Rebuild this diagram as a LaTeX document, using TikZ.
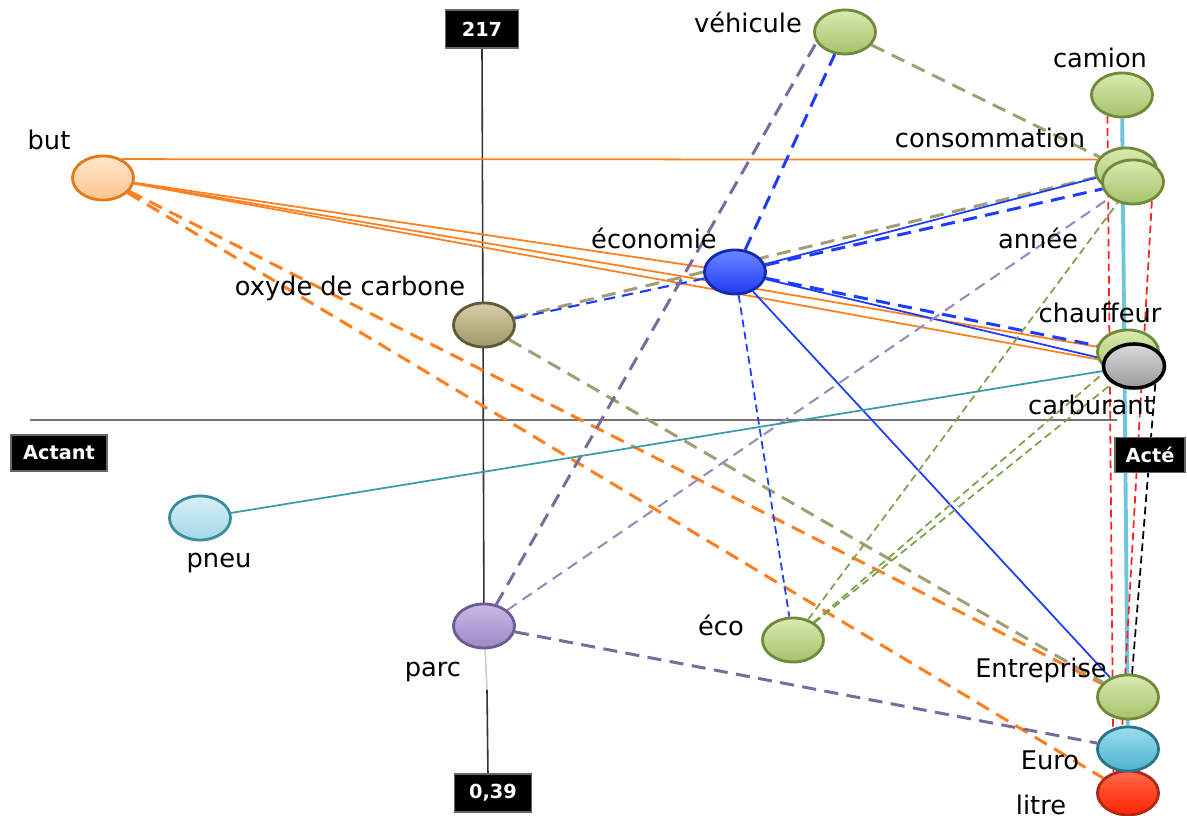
\documentclass[tikz,border=0pt]{standalone}
\usepackage{fontspec}
\setmainfont{DejaVu Sans}
\usetikzlibrary{shapes.geometric,backgrounds}

\definecolor{greenL}{HTML}{D9EAB0}\definecolor{greenM}{HTML}{A6C26A}\definecolor{greenD}{HTML}{70893A}
\definecolor{orangeL}{HTML}{FFE6CC}\definecolor{orangeM}{HTML}{FCC48E}\definecolor{orangeD}{HTML}{E07A1A}
\definecolor{blueL}{HTML}{6A86FF}\definecolor{blueM}{HTML}{1F3CF5}\definecolor{blueD}{HTML}{1428B0}
\definecolor{khakiL}{HTML}{D6CFA8}\definecolor{khakiM}{HTML}{A09868}\definecolor{khakiD}{HTML}{5F5A38}
\definecolor{greyL}{HTML}{DADADA}\definecolor{greyM}{HTML}{9A9A9A}
\definecolor{pneuL}{HTML}{D6F0F6}\definecolor{pneuM}{HTML}{A3D8E6}\definecolor{pneuD}{HTML}{3C8D9C}
\definecolor{parcL}{HTML}{C8BBE4}\definecolor{parcM}{HTML}{9C88C6}\definecolor{parcD}{HTML}{6C5C92}
\definecolor{euroL}{HTML}{9ADCEC}\definecolor{euroM}{HTML}{4DB4CE}\definecolor{euroD}{HTML}{2A7488}
\definecolor{litreL}{HTML}{FF6A4A}\definecolor{litreM}{HTML}{FF2400}\definecolor{litreD}{HTML}{B0281A}
% link colours
\definecolor{lnorange}{HTML}{FF7F1F}
\definecolor{lnblue}{HTML}{1E3CFF}
\definecolor{lnkhaki}{HTML}{A39D74}
\definecolor{lnparc}{HTML}{7B6A9C}
\definecolor{lnparcL}{HTML}{9A8CB8}
\definecolor{lngreen}{HTML}{7FA04A}
\definecolor{lnteal}{HTML}{3B9BAA}
\definecolor{lncyan}{HTML}{6CC6DE}
\definecolor{lnred}{HTML}{FF2222}

\tikzset{
  term/.style={ellipse, inner sep=0pt, minimum width=6.1mm,
               minimum height=4.4mm, line width=0.8pt},
  greenterm/.style={term, draw=greenD, top color=greenL, bottom color=greenM},
  orangeterm/.style={term, draw=orangeD, top color=orangeL, bottom color=orangeM},
  blueterm/.style={term, draw=blueD, top color=blueL, bottom color=blueM},
  khakiterm/.style={term, draw=khakiD, top color=khakiL, bottom color=khakiM},
  greyterm/.style={term, draw=black, line width=1pt, top color=greyL, bottom color=greyM},
  pneuterm/.style={term, draw=pneuD, top color=pneuL, bottom color=pneuM},
  parcterm/.style={term, draw=parcD, top color=parcL, bottom color=parcM},
  euroterm/.style={term, draw=euroD, top color=euroL, bottom color=euroM},
  litreterm/.style={term, draw=litreD, top color=litreL, bottom color=litreM},
  word/.style={font=\fontsize{7.3}{8}\selectfont, inner sep=0pt},
  axisbox/.style={fill=black, draw=black!60, text=white, inner sep=0pt,
                  font=\bfseries\fontsize{5.5}{6}\selectfont,
                  minimum width=7.3mm, minimum height=3.8mm},
  axisline/.style={line width=0.45pt, draw=black!80},
  solidlink/.style={line width=0.5pt},
  dashlink/.style={line width=0.85pt, dash pattern=on 4pt off 2.4pt},
  dashthin/.style={line width=0.6pt, dash pattern=on 3.2pt off 2pt},
  finedash/.style={line width=0.5pt, dash pattern=on 2.2pt off 1.3pt}
}

\begin{document}
\begin{tikzpicture}[x=0.01cm, y=-0.01cm]
  \useasboundingbox (0,0) rectangle (1187,816);

  % axis boxes
  \node[axisbox] (top) at (482,29) {217};
  \node[axisbox, minimum width=7.7mm] (bottom) at (493,793) {0,39};
  \node[axisbox, minimum width=9.6mm, minimum height=3.6mm] (actant) at (59,453) {Actant};
  \node[axisbox, minimum width=7mm, minimum height=3.5mm] (acte) at (1150,455) {Acté};
  \coordinate (hleft) at (30,420);
  \coordinate (hright) at (1117,420);
  \coordinate (vgap) at (487,690);
  \coordinate (vfoot) at (488,775);

  % terms
  \node[greenterm] (vehic) at (845,32) {};
  \node[greenterm] (camion) at (1122,95) {};
  \node[greenterm] (cons) at (1126,170) {};
  \node[greenterm] (annee) at (1133,182) {};
  \node[orangeterm] (but) at (103,178) {};
  \node[blueterm] (econ) at (735,272) {};
  \node[khakiterm] (oxyde) at (484,325) {};
  \node[greenterm] (chauf) at (1128,352) {};
  \node[greyterm] (carb) at (1134,366) {};
  \node[pneuterm] (pneu) at (200,518) {};
  \node[parcterm] (parc) at (484,626) {};
  \node[greenterm] (eco) at (793,640) {};
  \node[greenterm] (entr) at (1128,697) {};
  \node[litreterm] (litre) at (1128,793) {};
  \node[euroterm] (euro) at (1128,749) {};

  % labels
  \node[word] (t-vehic) at (748,22) {véhicule};
  \node[word] (t-camion) at (1100,58) {camion};
  \node[word] (t-cons) at (990,138) {consommation};
  \node[word] (t-annee) at (1038,238) {année};
  \node[word] (t-but) at (49,140) {but};
  \node[word] (t-econ) at (654,238) {économie};
  \node[word] (t-oxyde) at (350,288) {oxyde de carbone};
  \node[word] (t-chauf) at (1100,313) {chauffeur};
  \node[word] (t-carb) at (1091,405) {carburant};
  \node[word] (t-pneu) at (219,563) {pneu};
  \node[word] (t-parc) at (433,672) {parc};
  \node[word] (t-eco) at (721,625) {éco};
  \node[word] (t-entr) at (1041,670) {Entreprise};
  \node[word] (t-euro) at (1050,760) {Euro};
  \node[word] (t-litre) at (1041,805) {litre};

  \begin{scope}[on background layer]
    % axes
    \draw[axisline, draw=black!55, line width=0.6pt] (hleft) -- (hright);
    \draw[axisline] (top.south) -- (parc.center);
    \draw[axisline, draw=black!20] (parc.center) -- (vgap);
    \draw[axisline] (vgap) -- (vfoot);

    % but
    \draw[solidlink, lnorange] (but.45) -- (cons.160);
    \draw[solidlink, lnorange] (but) -- (econ);
    \draw[solidlink, lnorange] (but) -- (chauf);
    \draw[solidlink, lnorange] (but) -- (carb);
    \draw[dashlink, lnorange] (but) -- (entr);
    \draw[dashlink, lnorange] (but) -- (litre);

    % oxyde de carbone
    \draw[dashlink, lnkhaki] (oxyde) -- (cons);
    \draw[dashlink, lnkhaki] (oxyde) -- (entr);
    \draw[dashlink, lnkhaki] (vehic) -- (cons);
    \draw[dashthin, lnblue] (oxyde) -- (econ);

    % economie
    \draw[solidlink, lnblue] (econ) -- (cons);
    \draw[dashlink, lnblue] (econ) -- (annee);
    \draw[dashlink, lnblue] (econ) -- (chauf);
    \draw[solidlink, lnblue] (econ) -- (carb);
    \draw[solidlink, lnblue] (econ) -- (entr);
    \draw[finedash, lnblue] (econ) -- (eco);
    \draw[dashlink, lnblue] (econ) -- (vehic);

    % parc
    \draw[dashlink, lnparc] (parc) -- (vehic.200);
    \draw[dashthin, lnparcL] (parc) -- (annee);
    \draw[dashlink, lnparc] (parc) -- (euro);

    % eco
    \draw[finedash, lngreen] (eco) -- (annee);
    \draw[finedash, lngreen] (eco) -- (chauf);
    \draw[finedash, lngreen] (eco) -- (carb);

    % pneu, camion, litre
    \draw[solidlink, lnteal] (pneu) -- (carb);
    \draw[line width=1.1pt, lncyan] (camion) -- (euro);
    \draw[finedash, lnred] (camion.235) -- (litre.125);
    \draw[finedash, lnred] (annee.-45) -- (litre.110);
    \draw[finedash, black] (carb.-40) -- (entr.80);
  \end{scope}
\end{tikzpicture}
\end{document}
